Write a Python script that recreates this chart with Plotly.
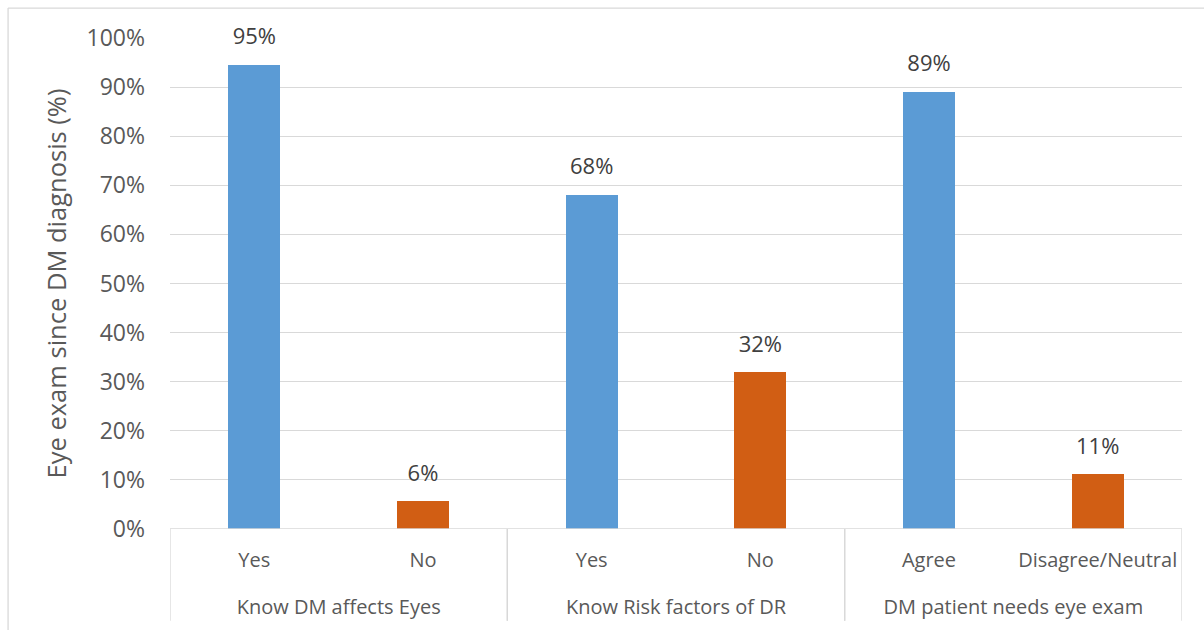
import plotly.graph_objects as go

# Survey groups, answers and share of respondents with an eye exam since DM diagnosis
groups = ["Know DM affects Eyes", "Know DM affects Eyes",
          "Know Risk factors of DR", "Know Risk factors of DR",
          "DM patient needs eye exam", "DM patient needs eye exam"]
answers = ["Yes", "No", "Yes", "No", "Agree", "Disagree/Neutral"]
values = [94.6, 5.7, 68.1, 31.9, 89.1, 11.2]
bar_colors = ["#5B9BD5", "#D15E14", "#5B9BD5", "#D15E14", "#5B9BD5", "#D15E14"]
y_ticks = [0, 10, 20, 30, 40, 50, 60, 70, 80, 90, 100]
y_tick_text = [f"{t}%" for t in y_ticks]

FONT = "Open Sans"
TXT = "#595959"
GRID = "#D9D9D9"

# group names in order and the index span each one covers
group_names = list(dict.fromkeys(groups))
spans = []
for g in group_names:
    idx = [i for i, v in enumerate(groups) if v == g]
    spans.append((idx[0], idx[-1]))
n = len(answers)
full_range = [-0.5, n - 0.5]

fig = go.Figure()
fig.add_trace(go.Bar(
    x=[groups, answers], y=values,
    marker=dict(color=bar_colors, line=dict(width=0)),
    width=0.31, hoverinfo="skip", showlegend=False,
))
# value labels sitting above each bar
fig.add_trace(go.Scatter(
    x=[groups, answers], y=values, mode="markers+text",
    marker=dict(size=22, opacity=0),
    texttemplate="%{y:.0f}%", textposition="top center",
    textfont=dict(family=FONT, size=22, color="#404040"),
    hoverinfo="skip", showlegend=False, cliponaxis=False,
))

fig.update_layout(
    width=1204, height=630,
    margin=dict(l=170, r=22, t=38, b=101, autoexpand=False),
    paper_bgcolor="white", plot_bgcolor="white",
    font=dict(family=FONT, color=TXT),
    bargap=0,
    xaxis=dict(type="multicategory", showticklabels=False,
               showline=False, showdividers=False, ticks="",
               showgrid=False, automargin=False),
    # answer row under the bars
    xaxis2=dict(
        overlaying="x", anchor="y", side="bottom", range=full_range,
        tickmode="array", tickvals=list(range(n)), ticktext=answers,
        tickfont=dict(family=FONT, size=20, color=TXT), tickangle=0,
        showgrid=False, zeroline=False, showline=False, ticks="",
        ticklabelstandoff=17, automargin=False, fixedrange=True,
    ),
    # question/group row below the answers
    xaxis3=dict(
        overlaying="x", anchor="y", side="bottom", range=full_range,
        tickmode="array", tickvals=[(a + b) / 2 for a, b in spans],
        ticktext=group_names,
        tickfont=dict(family=FONT, size=20, color=TXT), tickangle=0,
        showgrid=False, zeroline=False, showline=False, ticks="",
        ticklabelstandoff=64, automargin=False, fixedrange=True,
    ),
)
fig.update_yaxes(
    range=[0, 100], tickvals=y_ticks, ticktext=y_tick_text,
    tickfont=dict(family=FONT, size=23, color=TXT),
    showgrid=True, gridcolor=GRID, gridwidth=1.3,
    zeroline=False, showline=False, ticks="",
    ticklabelstandoff=24, automargin=False,
    title=dict(text="Eye exam since DM diagnosis (%)",
               font=dict(family=FONT, size=25.5, color=TXT), standoff=12),
)

# category baseline at 0%
fig.add_shape(type="line", xref="x2", yref="y",
              x0=full_range[0], x1=full_range[1], y0=0, y1=0,
              line=dict(color=GRID, width=1.3))
# vertical separators between the groups, running through both label rows
for a, b in spans:
    for xpos in (a - 0.5, b + 0.5):
        fig.add_shape(type="line", xref="x3", yref="paper",
                      x0=xpos, x1=xpos, y0=0, y1=-0.187,
                      line=dict(color=GRID, width=1.3))

# light outer frame of the chart area
fig.add_shape(type="line", xref="paper", yref="paper",
              x0=-0.160, x1=1.05, y0=1.061, y1=1.061,
              line=dict(color=GRID, width=1.3))
fig.add_shape(type="line", xref="paper", yref="paper",
              x0=-0.160, x1=-0.160, y0=1.061, y1=-0.25,
              line=dict(color=GRID, width=1.3))

fig.write_html("out.html")
